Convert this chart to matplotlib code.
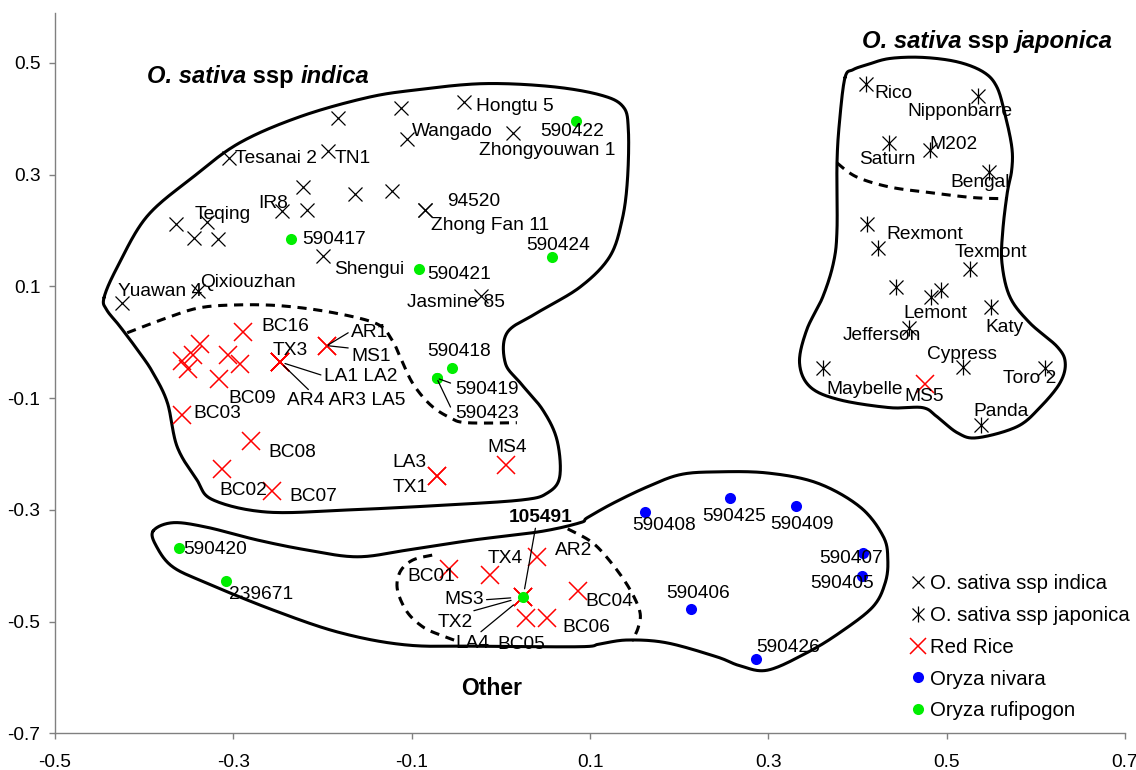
import matplotlib
matplotlib.use("Agg")
import matplotlib.pyplot as plt
import numpy as np
from matplotlib.lines import Line2D
from matplotlib.legend_handler import HandlerTuple

plt.rcParams['font.family'] = ['Liberation Sans', 'DejaVu Sans']
plt.rcParams['axes.unicode_minus'] = False

# ---------------- data ----------------
indica_names = ["Tesanai 2", "TN1", "", "", "Hongtu 5", "Wangado", "Zhongyouwan 1", "", "", "",
                "94520", "Zhong Fan 11", "IR8", "", "Teqing", "", "", "", "Shengui", "Qixiouzhan",
                "Yuawan 4", "Jasmine 85"]
indica_x = [-0.305, -0.194, -0.183, -0.112, -0.041, -0.105, 0.014, -0.222, -0.164, -0.122,
            -0.085, -0.085, -0.245, -0.217, -0.330, -0.364, -0.344, -0.317, -0.199, -0.340,
            -0.425, -0.022]
indica_y = [0.329, 0.343, 0.402, 0.420, 0.431, 0.364, 0.375, 0.278, 0.266, 0.270,
            0.237, 0.237, 0.235, 0.237, 0.216, 0.212, 0.187, 0.185, 0.155, 0.092,
            0.071, 0.083]

japonica_names = ["Rico", "Nipponbarre", "Saturn", "M202", "Bengal", "Rexmont", "", "Texmont", "", "",
                  "Lemont", "Katy", "Jefferson", "Cypress", "Maybelle", "Toro 2", "Panda"]
japonica_x = [0.410, 0.535, 0.435, 0.481, 0.547, 0.411, 0.423, 0.526, 0.443, 0.494,
              0.482, 0.550, 0.458, 0.518, 0.361, 0.610, 0.539]
japonica_y = [0.463, 0.440, 0.357, 0.345, 0.305, 0.212, 0.169, 0.132, 0.099, 0.094,
              0.081, 0.064, 0.026, -0.044, -0.046, -0.046, -0.148]

red_names = ["BC16", "", "", "", "", "", "", "BC09", "TX3", "LA1", "LA2", "AR4", "AR3", "LA5",
             "AR1", "MS1", "BC03", "BC08", "BC02", "BC07", "LA3", "TX1", "MS4", "BC01", "TX4",
             "AR2", "MS3", "TX2", "LA4", "BC05", "BC06", "BC04", "MS5"]
red_x = [-0.289, -0.337, -0.345, -0.358, -0.351, -0.306, -0.293, -0.316, -0.248, -0.248, -0.248,
         -0.248, -0.248, -0.248, -0.195, -0.195, -0.358, -0.280, -0.313, -0.257, -0.072, -0.072,
         0.006, -0.058, -0.012, 0.041, 0.025, 0.025, 0.025, 0.028, 0.052, 0.087, 0.476]
red_y = [0.019, -0.003, -0.022, -0.033, -0.048, -0.022, -0.039, -0.065, -0.035, -0.035, -0.035,
         -0.035, -0.035, -0.035, -0.006, -0.006, -0.130, -0.176, -0.227, -0.266, -0.239, -0.239,
         -0.219, -0.406, -0.416, -0.384, -0.456, -0.456, -0.456, -0.493, -0.493, -0.445, -0.074]

nivara_names = ["590408", "590425", "590409", "590407", "590405", "590406", "590426"]
nivara_x = [0.162, 0.257, 0.331, 0.406, 0.405, 0.213, 0.286]
nivara_y = [-0.304, -0.279, -0.293, -0.377, -0.418, -0.477, -0.567]

rufi_names = ["590417", "590422", "590424", "590421", "590418", "590419", "590423",
              "590420", "239671", "105491"]
rufi_x = [-0.235, 0.084, 0.057, -0.092, -0.055, -0.072, -0.072, -0.361, -0.308, 0.025]
rufi_y = [0.184, 0.397, 0.153, 0.132, -0.046, -0.064, -0.064, -0.368, -0.427, -0.456]

legend_labels = ["O. sativa ssp indica", "O. sativa ssp japonica", "Red Rice",
                 "Oryza nivara", "Oryza rufipogon"]
xticks = [-0.5, -0.3, -0.1, 0.1, 0.3, 0.5, 0.7]
yticks = [-0.7, -0.5, -0.3, -0.1, 0.1, 0.3, 0.5]

# group outlines (hand-drawn enclosures)
indica_outline = [(-0.445, 0.080), (-0.430, 0.135), (-0.397, 0.225), (-0.345, 0.296), (-0.293, 0.357),
                  (-0.225, 0.404), (-0.150, 0.438), (-0.094, 0.452), (-0.020, 0.463), (0.055, 0.458),
                  (0.111, 0.443), (0.137, 0.422), (0.143, 0.381), (0.142, 0.291), (0.136, 0.219),
                  (0.122, 0.153), (0.089, 0.099), (0.041, 0.053), (0.007, 0.017), (0.005, -0.037),
                  (0.022, -0.073), (0.047, -0.121), (0.063, -0.175), (0.066, -0.241), (0.052, -0.270),
                  (0.025, -0.282), (-0.057, -0.291), (-0.169, -0.300), (-0.262, -0.304), (-0.323, -0.282),
                  (-0.341, -0.246), (-0.363, -0.187), (-0.374, -0.108), (-0.390, -0.055), (-0.405, -0.019),
                  (-0.427, 0.028), (-0.442, 0.058)]
indica_red_dash = [(-0.419, 0.017), (-0.374, 0.044), (-0.337, 0.062), (-0.293, 0.067), (-0.244, 0.065),
                   (-0.188, 0.053), (-0.139, 0.033), (-0.122, 0.004), (-0.113, -0.026), (-0.099, -0.073),
                   (-0.079, -0.112), (-0.057, -0.135), (-0.038, -0.144), (0.018, -0.144)]
other_outline = [(-0.390, -0.338), (-0.368, -0.323), (-0.330, -0.331), (-0.273, -0.354), (-0.217, -0.372),
                 (-0.161, -0.384), (-0.105, -0.372), (-0.031, -0.354), (0.044, -0.339), (0.089, -0.323),
                 (0.097, -0.314), (0.126, -0.288), (0.164, -0.259), (0.201, -0.237), (0.242, -0.232),
                 (0.299, -0.234), (0.355, -0.252), (0.403, -0.295), (0.429, -0.348), (0.434, -0.390),
                 (0.431, -0.431), (0.417, -0.474), (0.380, -0.520), (0.343, -0.556), (0.299, -0.587),
                 (0.268, -0.579), (0.242, -0.563), (0.186, -0.538), (0.142, -0.533), (0.111, -0.540),
                 (0.089, -0.545), (-0.023, -0.544), (-0.105, -0.542), (-0.180, -0.520), (-0.256, -0.479),
                 (-0.330, -0.431), (-0.368, -0.402), (-0.386, -0.366)]
other_dash_left = [(-0.077, -0.381), (-0.099, -0.390), (-0.113, -0.411), (-0.116, -0.443),
                   (-0.105, -0.483), (-0.087, -0.510), (-0.068, -0.524), (-0.049, -0.535)]
other_dash_right = [(0.075, -0.334), (0.103, -0.359), (0.126, -0.399), (0.145, -0.443),
                    (0.156, -0.483), (0.154, -0.511), (0.147, -0.535)]
japonica_outline = [(0.386, 0.474), (0.395, 0.488), (0.411, 0.497), (0.436, 0.508), (0.473, 0.510),
                    (0.512, 0.502), (0.541, 0.484), (0.556, 0.458), (0.565, 0.411), (0.573, 0.350),
                    (0.573, 0.309), (0.568, 0.268), (0.563, 0.201), (0.562, 0.142), (0.571, 0.081),
                    (0.593, 0.035), (0.624, -0.008), (0.633, -0.037), (0.627, -0.073), (0.605, -0.116),
                    (0.579, -0.151), (0.534, -0.171), (0.512, -0.162), (0.489, -0.133), (0.473, -0.117),
                    (0.436, -0.117), (0.380, -0.103), (0.347, -0.080), (0.335, -0.037), (0.343, 0.022),
                    (0.361, 0.081), (0.373, 0.142), (0.377, 0.201), (0.377, 0.321), (0.380, 0.398)]
japonica_dash = [(0.377, 0.321), (0.399, 0.296), (0.436, 0.278), (0.481, 0.268), (0.530, 0.259),
                 (0.568, 0.257)]

# ---------------- figure ----------------
FS = 13.8
fig = plt.figure(figsize=(11.36, 7.7), dpi=100)
ax = fig.add_axes([55 / 1136, 36.7 / 770, 1070 / 1136, 720.6 / 770])
ax.set_xlim(-0.5, 0.7)
ax.set_ylim(-0.7, 0.59)

for s in ("top", "right"):
    ax.spines[s].set_visible(False)
for s in ("left", "bottom"):
    ax.spines[s].set_color("#808080")
    ax.spines[s].set_linewidth(1.0)
ax.set_xticks(xticks)
ax.set_yticks(yticks)
ax.set_xticklabels([f"{v:.1f}" for v in xticks])
ax.set_yticklabels([f"{v:.1f}" for v in yticks])
ax.tick_params(direction="out", length=4, width=1.0, color="#808080", labelsize=FS)
ax.tick_params(axis="x", pad=11)
ax.tick_params(axis="y", pad=6.5)


def smooth(points, closed, n=24):
    P = np.asarray(points, dtype=float)
    if closed:
        P = np.vstack([P[-1], P, P[0], P[1]])
    else:
        P = np.vstack([P[0], P, P[-1]])
    out = []
    t = np.linspace(0, 1, n, endpoint=False)[:, None]
    for i in range(1, len(P) - 2):
        p0, p1, p2, p3 = P[i - 1], P[i], P[i + 1], P[i + 2]
        seg = 0.5 * ((2 * p1) + (-p0 + p2) * t + (2 * p0 - 5 * p1 + 4 * p2 - p3) * t ** 2
                     + (-p0 + 3 * p1 - 3 * p2 + p3) * t ** 3)
        out.append(seg)
    out.append(P[-2][None, :])
    return np.vstack(out)


for pts in (indica_outline, other_outline, japonica_outline):
    c = smooth(pts, True)
    ax.plot(c[:, 0], c[:, 1], color="black", lw=2.2, solid_capstyle="round", zorder=1)
for pts in (indica_red_dash, other_dash_left, other_dash_right, japonica_dash):
    c = smooth(pts, False)
    ax.plot(c[:, 0], c[:, 1], color="black", lw=2.2, dashes=(3, 2.2), zorder=1)

GREEN = "#00EE00"
# markers
ax.plot(indica_x, indica_y, ls="none", marker="x", ms=9.5, mew=0.9, color="black", zorder=3)
ax.plot(japonica_x, japonica_y, ls="none", marker="x", ms=9.5, mew=0.9, color="black", zorder=3)
ax.plot(japonica_x, japonica_y, ls="none", marker="|", ms=12, mew=0.9, color="black", zorder=3)
ax.plot(red_x, red_y, ls="none", marker="x", ms=13, mew=1.1, color="#FF0000", zorder=3)
ax.plot(nivara_x, nivara_y, ls="none", marker="o", ms=8, mew=0, color="#0000FF", zorder=4)
ax.plot(rufi_x, rufi_y, ls="none", marker="o", ms=8, mew=0, color=GREEN, zorder=4)

coords = {}
for names, xs, ys in ((indica_names, indica_x, indica_y), (japonica_names, japonica_x, japonica_y),
                      (red_names, red_x, red_y), (nivara_names, nivara_x, nivara_y),
                      (rufi_names, rufi_x, rufi_y)):
    for n, x, y in zip(names, xs, ys):
        if n and n not in coords:
            coords[n] = (x, y)

# (text, sample, dx px, dy px downward, leader relpos, leader shrink, bold)
label_specs = [
    ("Tesanai 2", "Tesanai 2", 6, 0), ("TN1", "TN1", 7, 8), ("Hongtu 5", "Hongtu 5", 12, 5),
    ("Wangado", "Wangado", 5, -7), ("Zhongyouwan 1", "Zhongyouwan 1", -34, 18),
    ("94520", "94520", 22, -8), ("Zhong Fan 11", "Zhong Fan 11", 6, 16), ("IR8", "IR8", -24, -8),
    ("Teqing", "Teqing", -12, -7), ("Shengui", "Shengui", 11, 14),
    ("Qixiouzhan", "Qixiouzhan", 2, -8), ("Yuawan 4", "Yuawan 4", -4, -11),
    ("Jasmine 85", "Jasmine 85", -74, 7),
    ("Rico", "Rico", 8, 10), ("Nipponbarre", "Nipponbarre", -71, 15), ("Saturn", "Saturn", -30, 17),
    ("M202", "M202", 0, -5), ("Bengal", "Bengal", -38, 11), ("Rexmont", "Rexmont", 19, 11),
    ("Texmont", "Texmont", -15, -16), ("Lemont", "Lemont", -27, 16), ("Katy", "Katy", -6, 21),
    ("Jefferson", "Jefferson", -67, 8), ("Cypress", "Cypress", -36, -12),
    ("Maybelle", "Maybelle", 4, 22), ("Toro 2", "Toro 2", -42, 11), ("Panda", "Panda", -8, -13),
    ("BC16", "BC16", 18, -5), ("BC09", "BC09", 9, 20), ("BC03", "BC03", 12, -1),
    ("BC08", "BC08", 17, 12), ("BC02", "BC02", -2, 21), ("BC07", "BC07", 18, 6),
    ("TX3", "TX3", -7, -11),
    ("LA1 LA2", "LA1", 44, 15, (-0.03, 0.6), 4),
    ("AR4 AR3 LA5", "AR4", 7, 39, (0.2, 1.05), 4),
    ("AR1", "AR1", 24, -13, (-0.03, 0.55), 1),
    ("MS1", "MS1", 24, 11, (-0.03, 1.0), 1),
    ("LA3", "LA3", -44, -13), ("TX1", "TX1", -44, 12), ("MS4", "MS4", -19, -17),
    ("BC01", "BC01", -42, 7), ("TX4", "TX4", -3, -16), ("AR2", "AR2", 18, -6),
    ("MS3", "MS3", -79, 2, (1.0, 0.45), 9),
    ("TX2", "TX2", -86, 25, (0.76, 1.0), 9),
    ("LA4", "LA4", -68, 46, (0.6, 0.9), 9),
    ("BC05", "BC05", -28, 27), ("BC06", "BC06", 15, 10), ("BC04", "BC04", 7, 11),
    ("MS5", "MS5", -21, 13),
    ("590408", "590408", -13, 13), ("590425", "590425", -28, 18), ("590409", "590409", -26, 19),
    ("590407", "590407", -44, 6), ("590405", "590405", -52, 8), ("590406", "590406", -25, -15),
    ("590426", "590426", 0, -12),
    ("590417", "590417", 11, 0), ("590422", "590422", -36, 11), ("590424", "590424", -25, -11),
    ("590421", "590421", 8, 6), ("590418", "590418", -25, -16),
    ("590419", "590419", 19, 11, (-0.08, 0.85), 2),
    ("590423", "590423", 19, 35, (-0.08, 0.85), 2),
    ("590420", "590420", 4, 2), ("239671", "239671", 3, 14),
    ("105491", "105491", -14, -80, (0.42, 0.0), 6, True),
]

for spec in label_specs:
    text, name, dx, dy = spec[:4]
    relpos = spec[4] if len(spec) > 4 else None
    shrink = spec[5] if len(spec) > 5 else 0
    bold = spec[6] if len(spec) > 6 else False
    kw = {}
    if relpos is not None:
        kw["arrowprops"] = dict(arrowstyle="-", color="black", lw=0.9, shrinkA=0,
                                shrinkB=shrink, relpos=relpos)
    ax.annotate(text, xy=coords[name], xytext=(dx, -dy), textcoords="offset pixels",
                ha="left", va="center", fontsize=FS, color="black",
                fontweight="bold" if bold else "normal", zorder=5, **kw)


def mixed_title(x, y, parts, fs):
    prev = ax.text(x, y, parts[0][0], fontsize=fs, fontweight="bold",
                   style="italic" if parts[0][1] else "normal", ha="left", va="center")
    for s, it in parts[1:]:
        prev = ax.annotate(s, xy=(1, 0), xycoords=prev, va="bottom", ha="left",
                           fontsize=fs, fontweight="bold", style="italic" if it else "normal")


mixed_title(-0.397, 0.476, [("O. sativa", True), (" ssp ", False), ("indica", True)], 17.1)
mixed_title(0.405, 0.538, [("O. sativa", True), (" ssp ", False), ("japonica", True)], 17.2)
ax.text(-0.010, -0.619, "Other", fontsize=16.5, fontweight="bold", ha="center", va="center")

# legend
h_ind = Line2D([], [], ls="none", marker="x", ms=9, mew=0.9, color="black")
h_jap = (Line2D([], [], ls="none", marker="x", ms=9, mew=0.9, color="black"),
         Line2D([], [], ls="none", marker="|", ms=11, mew=0.9, color="black"))
h_red = Line2D([], [], ls="none", marker="x", ms=11, mew=1.1, color="#FF0000")
h_niv = Line2D([], [], ls="none", marker="o", ms=8, mew=0, color="#0000FF")
h_ruf = Line2D([], [], ls="none", marker="o", ms=8, mew=0, color=GREEN)
ax.legend([h_ind, h_jap, h_red, h_niv, h_ruf], legend_labels,
          handler_map={tuple: HandlerTuple(ndivide=1)}, loc="upper left",
          bbox_to_anchor=(0.800, 0.221), frameon=False, fontsize=14.7, handlelength=0.7,
          handletextpad=0.25, labelspacing=0.63, borderpad=0, borderaxespad=0)

fig.savefig("out.png", dpi=100)
